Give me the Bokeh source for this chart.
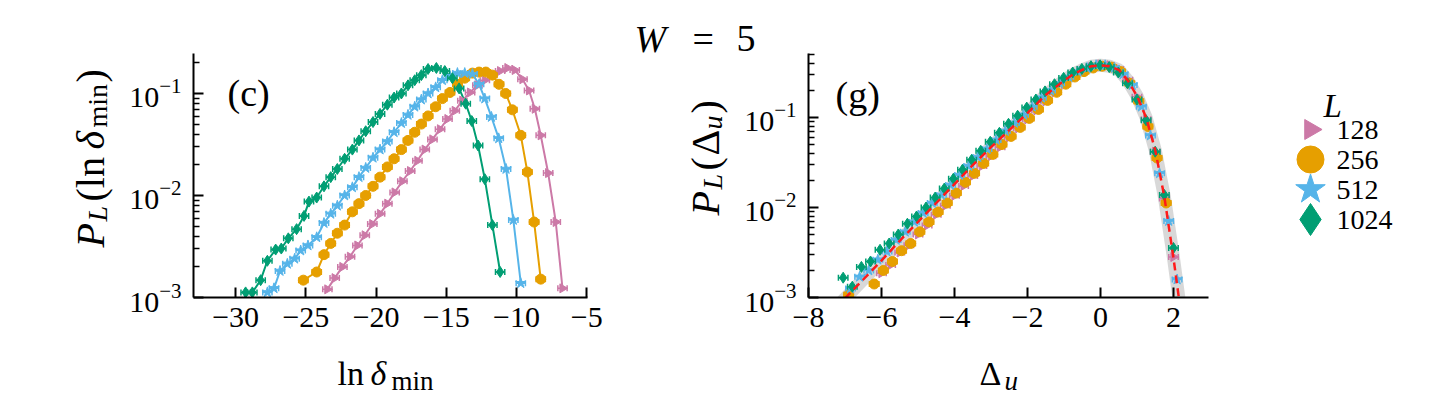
import numpy as np
from bokeh.plotting import figure
from bokeh.models import Range1d, FixedTicker, Label
from bokeh.layouts import row, column
from bokeh.embed import file_html
from bokeh.resources import INLINE

FONT = "Liberation Serif"

# ---------------- data ----------------
system_sizes = ["128", "256", "512", "1024"]

# panel (c): ln(delta_min) vs log10 P_L
c128_x = [-23.47, -22.95, -22.40, -21.86, -21.33, -20.81, -20.27, -19.72, -19.20, -18.68, -18.13, -17.58, -17.06,
          -16.54, -15.99, -15.45, -14.92, -14.40, -13.86, -13.31, -12.79, -12.26, -11.72, -11.17, -10.65, -10.13,
          -9.58, -9.11, -8.70, -8.28, -7.75, -7.21, -6.73]
c128_log10P = [-2.92, -2.81, -2.70, -2.60, -2.49, -2.39, -2.28, -2.18, -2.08, -1.97, -1.86, -1.76, -1.66, -1.55,
               -1.45, -1.35, -1.25, -1.17, -1.07, -0.99, -0.92, -0.87, -0.81, -0.78, -0.75, -0.77, -0.86, -0.97,
               -1.15, -1.41, -1.78, -2.26, -2.91]
c256_x = [-25.18, -24.23, -23.71, -23.23, -22.76, -22.24, -21.69, -21.22, -20.74, -20.22, -19.72, -19.20, -18.72,
          -18.20, -17.73, -17.25, -16.78, -16.30, -15.76, -15.28, -14.74, -14.21, -13.69, -13.14, -12.67, -12.19,
          -11.72, -11.25, -10.77, -10.30, -9.70, -9.23, -8.75, -8.28]
c256_log10P = [-2.83, -2.75, -2.58, -2.47, -2.37, -2.29, -2.16, -2.08, -2.00, -1.91, -1.82, -1.72, -1.64, -1.55,
               -1.46, -1.38, -1.30, -1.22, -1.13, -1.05, -0.99, -0.91, -0.85, -0.80, -0.79, -0.79, -0.82, -0.91,
               -1.00, -1.16, -1.41, -1.77, -2.26, -2.82]
c512_x = [-27.74, -27.27, -26.84, -26.32, -25.80, -25.37, -24.85, -24.23, -23.71, -23.23, -22.76, -22.24, -21.69,
          -21.22, -20.74, -20.22, -19.72, -19.20, -18.72, -18.20, -17.73, -17.25, -16.78, -16.30, -15.76, -15.28,
          -14.74, -14.21, -13.69, -13.14, -12.67, -12.26, -11.79, -11.27, -10.75, -10.23, -9.70]
c512_log10P = [-2.95, -2.91, -2.74, -2.67, -2.62, -2.54, -2.49, -2.41, -2.27, -2.18, -2.10, -2.00, -1.92, -1.82,
               -1.73, -1.63, -1.55, -1.47, -1.38, -1.29, -1.21, -1.13, -1.06, -1.00, -0.94, -0.87, -0.83, -0.80,
               -0.80, -0.81, -0.91, -1.05, -1.23, -1.44, -1.74, -2.24, -2.86]
c1024_x = [-29.29, -28.81, -28.22, -27.74, -27.15, -26.75, -26.25, -25.66, -25.13, -24.78, -24.23, -23.71, -23.23,
           -22.76, -22.24, -21.69, -21.22, -20.74, -20.22, -19.72, -19.20, -18.72, -18.20, -17.73, -17.25, -16.78,
           -16.30, -15.71, -15.11, -14.57, -14.09, -13.62, -13.19, -12.74, -12.26, -11.72, -11.17]
c1024_log10P = [-2.95, -2.95, -2.83, -2.64, -2.53, -2.52, -2.42, -2.33, -2.20, -2.06, -2.02, -1.91, -1.82, -1.74,
                -1.64, -1.55, -1.46, -1.37, -1.28, -1.20, -1.11, -1.04, -1.00, -0.92, -0.87, -0.82, -0.76, -0.75,
                -0.78, -0.85, -0.95, -1.10, -1.27, -1.51, -1.84, -2.29, -2.75]

# panel (g): Delta_u vs log10 P_L
g128_x = [-6.00, -5.75, -5.50, -5.25, -5.00, -4.75, -4.50, -4.25, -4.00, -3.75, -3.50, -3.25, -3.00, -2.75, -2.50,
          -2.25, -2.00, -1.75, -1.50, -1.25, -1.00, -0.75, -0.50, -0.25, 0.00, 0.25, 0.50, 0.75, 1.00, 1.25, 1.50,
          1.75, 2.00]
g128_log10P = [-2.73, -2.64, -2.50, -2.42, -2.30, -2.20, -2.08, -1.98, -1.87, -1.76, -1.65, -1.54, -1.43, -1.33,
               -1.22, -1.12, -1.02, -0.92, -0.82, -0.72, -0.63, -0.55, -0.48, -0.44, -0.41, -0.42, -0.46, -0.58,
               -0.77, -1.02, -1.38, -1.90, -2.55]
g256_x = [-6.90, -6.20, -5.95, -5.70, -5.45, -5.20, -4.95, -4.70, -4.45, -4.20, -3.95, -3.70, -3.45, -3.20, -2.95,
          -2.70, -2.45, -2.20, -1.95, -1.70, -1.45, -1.20, -0.95, -0.70, -0.45, -0.20, 0.05, 0.30, 0.55, 0.80, 1.05,
          1.30, 1.55, 1.80]
g256_log10P = [-2.97, -2.85, -2.70, -2.60, -2.48, -2.40, -2.27, -2.16, -2.05, -1.95, -1.84, -1.72, -1.62, -1.51,
               -1.41, -1.30, -1.21, -1.11, -1.01, -0.91, -0.81, -0.72, -0.63, -0.55, -0.49, -0.45, -0.43, -0.44,
               -0.49, -0.62, -0.82, -1.10, -1.45, -1.95]
g512_x = [-6.85, -6.60, -6.35, -6.10, -5.85, -5.60, -5.35, -5.10, -4.86, -4.61, -4.36, -4.11, -3.86, -3.61, -3.36,
          -3.11, -2.86, -2.61, -2.36, -2.11, -1.87, -1.62, -1.37, -1.12, -0.87, -0.62, -0.37, -0.12, 0.13, 0.38,
          0.62, 0.87, 1.12, 1.37, 1.62, 1.87, 2.10]
g512_log10P = [-2.90, -2.77, -2.70, -2.58, -2.49, -2.36, -2.27, -2.16, -2.06, -1.95, -1.86, -1.75, -1.64, -1.54,
               -1.44, -1.35, -1.25, -1.15, -1.06, -0.97, -0.88, -0.78, -0.70, -0.62, -0.55, -0.49, -0.45, -0.42,
               -0.42, -0.45, -0.52, -0.64, -0.88, -1.20, -1.62, -2.15, -2.80]
g1024_x = [-7.05, -6.80, -6.55, -6.30, -6.04, -5.79, -5.54, -5.29, -5.04, -4.78, -4.53, -4.28, -4.03, -3.78, -3.53,
           -3.28, -3.02, -2.77, -2.52, -2.27, -2.02, -1.77, -1.52, -1.26, -1.01, -0.76, -0.51, -0.26, -0.01, 0.24,
           0.49, 0.74, 1.00, 1.25, 1.50, 1.75, 2.00]
g1024_log10P = [-2.78, -2.88, -2.66, -2.60, -2.47, -2.40, -2.30, -2.18, -2.10, -2.00, -1.89, -1.79, -1.68, -1.58,
                -1.47, -1.37, -1.27, -1.17, -1.07, -0.98, -0.89, -0.80, -0.71, -0.63, -0.56, -0.50, -0.46, -0.43,
                -0.42, -0.44, -0.50, -0.62, -0.80, -1.03, -1.38, -1.86, -2.45]

# collapse fit (red dashed) in panel (g)
fit_x = [-7.25, -7.0, -6.5, -6.0, -5.5, -5.0, -4.5, -4.0, -3.5, -3.0, -2.5, -2.0, -1.5, -1.25, -1.0, -0.75, -0.5,
         -0.25, 0.0, 0.25, 0.5, 0.75, 1.0, 1.25, 1.5, 1.75, 2.0, 2.15, 2.3]
fit_log10P = [-3.12, -3.01, -2.80, -2.59, -2.37, -2.16, -1.95, -1.74, -1.53, -1.33, -1.14, -0.95, -0.75, -0.67,
              -0.59, -0.52, -0.47, -0.43, -0.42, -0.43, -0.47, -0.59, -0.76, -1.00, -1.36, -1.88, -2.56, -3.01, -3.5]

c_xticks = [-30, -25, -20, -15, -10, -5]
g_xticks = [-8, -6, -4, -2, 0, 2]
y_major = [1e-3, 1e-2, 1e-1]
y_minor = [m * 10.0 ** e for e in (-3, -2, -1) for m in range(2, 10)]

panel_c = {"128": (c128_x, c128_log10P), "256": (c256_x, c256_log10P),
           "512": (c512_x, c512_log10P), "1024": (c1024_x, c1024_log10P)}
panel_g = {"128": (g128_x, g128_log10P), "256": (g256_x, g256_log10P),
           "512": (g512_x, g512_log10P), "1024": (g1024_x, g1024_log10P)}

# ---------------- styles / geometry ----------------
COLORS = {"128": "#CC79A7", "256": "#E69F00", "512": "#56B4E9", "1024": "#009E73"}
MARKERS = {"128": "triangle", "256": "circle", "512": "star", "1024": "diamond"}
ANGLES = {"128": -np.pi / 2, "256": 0.0, "512": 0.0, "1024": 0.0}
MSIZE = {"128": 9, "256": 10, "512": 11, "1024": 11}
LSIZE = {"128": 20, "256": 27, "512": 31, "1024": 32}

TOTAL_W = 1430
ROW_H = 390                    # height of the two panels
OV_H = 396                     # height of the transparent text overlay
FT, FH = 53, 244               # frame top and frame height of both panels
FB = ROW_H - FT - FH           # bottom border (tick labels)
P1_BL, P1_FW, P1_BR = 193, 394, 30
P2_BL, P2_FW, P2_BR = 191, 400, 20


def style_panel(p, xticks):
    p.outline_line_color = None
    p.grid.visible = False
    p.background_fill_color = "white"
    p.border_fill_color = "white"
    for ax in p.axis:
        ax.axis_line_width = 2
        ax.axis_line_color = "black"
        ax.major_tick_line_width = 2
        ax.major_tick_line_color = "black"
        ax.major_tick_in = 10
        ax.major_tick_out = 0
        ax.minor_tick_in = 6
        ax.minor_tick_out = 0
        ax.minor_tick_line_width = 1.5
        ax.minor_tick_line_color = "black"
        ax.major_label_text_font = FONT
        ax.major_label_text_font_size = "30px"
        ax.major_label_text_color = "black"
    p.xaxis.ticker = FixedTicker(ticks=xticks)
    p.xaxis.minor_tick_in = 0
    p.xaxis.major_label_standoff = 10
    p.xaxis.major_label_overrides = {t: (("\u2212" + str(-t)) if t < 0 else str(t)) for t in xticks}
    p.yaxis.ticker = FixedTicker(ticks=y_major, minor_ticks=y_minor)
    p.yaxis.major_label_standoff = 12


def errbar_points(p, xs, ys, xerr, color, marker, angle, size):
    x = np.asarray(xs, dtype=float)
    y = 10.0 ** np.asarray(ys, dtype=float)
    p.segment(x0=x - xerr, y0=y, x1=x + xerr, y1=y, line_color=color, line_width=1.5)
    p.scatter(np.concatenate([x - xerr, x + xerr]), np.concatenate([y, y]), marker="dash",
              angle=np.pi / 2, size=6, line_color=color, line_width=1.5)
    p.scatter(x, y, marker=marker, angle=angle, size=size, fill_color=color, line_color=color)


# ---------------- panel (c) ----------------
p1 = figure(x_range=Range1d(-33, -4.95), y_range=Range1d(1e-3, 10 ** -0.608), y_axis_type="log",
            frame_width=P1_FW, frame_height=FH, min_border_left=P1_BL, min_border_right=P1_BR,
            min_border_top=FT, min_border_bottom=FB, output_backend="svg", toolbar_location=None)
style_panel(p1, c_xticks)
for L in system_sizes:
    xs, ys = panel_c[L]
    p1.line(xs, [10.0 ** v for v in ys], line_color=COLORS[L], line_width=2)
for L in system_sizes:
    xs, ys = panel_c[L]
    errbar_points(p1, xs, ys, 0.33, COLORS[L], MARKERS[L], ANGLES[L], MSIZE[L])

# ---------------- panel (g) ----------------
p2 = figure(x_range=Range1d(-8, 2.96), y_range=Range1d(1e-3, 10 ** -0.289), y_axis_type="log",
            frame_width=P2_FW, frame_height=FH, min_border_left=P2_BL, min_border_right=P2_BR,
            min_border_top=FT, min_border_bottom=FB, output_backend="svg", toolbar_location=None)
style_panel(p2, g_xticks)
fy = [10.0 ** v for v in fit_log10P]
p2.line(fit_x, fy, line_color="#d4d4d4", line_width=13, line_alpha=0.9)
for L in system_sizes:
    xs, ys = panel_g[L]
    errbar_points(p2, xs, ys, 0.13, COLORS[L], MARKERS[L], ANGLES[L], MSIZE[L])
p2.line(fit_x, fy, line_color="#ff1a1a", line_width=2.5, line_dash="8 5")

# ---------------- transparent text overlay (picture-pixel coordinates) ----------------
ov = figure(x_range=Range1d(0, TOTAL_W), y_range=Range1d(OV_H, 0), frame_width=TOTAL_W, frame_height=OV_H,
            min_border=0, x_axis_location=None, y_axis_location=None,
            output_backend="svg", toolbar_location=None)
ov.outline_line_color = None
ov.grid.visible = False
ov.background_fill_color = None
ov.border_fill_color = None
ov.margin = (-ROW_H, 0, 0, 0)


def put(x, y, s, size, style="normal", angle=0.0, baseline="alphabetic"):
    ov.add_layout(Label(x=x, y=y, text=s, text_font=FONT, text_font_size=f"{size}px", text_font_style=style,
                        angle=angle, text_align="left", text_baseline=baseline, text_color="black"))


# title
put(634, 38, "W", 38, "italic")
put(692, 38, "=", 38)
put(736, 38, "5", 38)
# panel letters
put(227, 92, "(c)", 38)
put(835, 94, "(g)", 38)

V = np.pi / 2
# y label of (c): P_L(ln δ_min)
put(90, 247, "P", 40, "italic", V)
put(97, 221, "L", 28, "italic", V)
put(90, 201, "(ln", 40, "normal", V)
put(90, 149, "δ", 40, "italic", V)
put(97, 127, "min", 28, "normal", V)
put(90, 82, ")", 40, "normal", V)
# y label of (g): P_L(Δ_u)
put(705, 215, "P", 40, "italic", V)
put(712, 189, "L", 28, "italic", V)
put(705, 170, "(", 40, "normal", V)
put(705, 155, "Δ", 40, "normal", V)
put(712, 129, "u", 28, "italic", V)
put(705, 113, ")", 40, "normal", V)
# x labels
put(337, 373, "ln", 34)
put(370, 373, "δ", 34, "italic")
put(391, 380, "min", 27)
put(979, 373, "Δ", 34)
put(1004, 380, "u", 27, "italic")

# legend
leg_rows_y = [129, 159, 189, 219]
for L, yy in zip(system_sizes, leg_rows_y):
    ov.scatter([1310], [yy], marker=MARKERS[L], angle=ANGLES[L], size=LSIZE[L],
               fill_color=COLORS[L], line_color=COLORS[L])
    put(1336, yy, L, 28, baseline="middle")
put(1323, 105, "L", 33, "italic")

layout = column(row(p1, p2), ov)
open("out.html", "w").write(file_html(layout, INLINE))
